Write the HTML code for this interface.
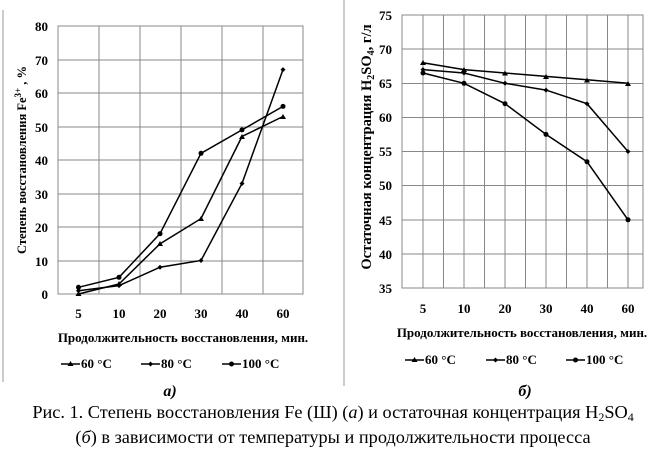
<!DOCTYPE html>
<html><head><meta charset="utf-8"><style>
body{margin:0;background:#fff;width:667px;height:467px;overflow:hidden}
text{font-family:"Liberation Serif",serif;font-weight:bold;font-size:13px;fill:#000}
text.cap{font-weight:normal;font-size:18.3px}
text.lab{font-style:italic;font-size:16px}
</style></head><body>
<svg width="667" height="467" viewBox="0 0 667 467">
<line x1="3" y1="10" x2="3" y2="382" stroke="#999" stroke-width="1"/>
<line x1="344" y1="0" x2="344" y2="386" stroke="#999" stroke-width="1"/>
<g stroke="#888" stroke-width="1" fill="none">
<rect x="58" y="26" width="245" height="268"/>
<line x1="58" y1="60" x2="303" y2="60"/><line x1="58" y1="93" x2="303" y2="93"/>
<line x1="58" y1="127" x2="303" y2="127"/><line x1="58" y1="160" x2="303" y2="160"/>
<line x1="58" y1="194" x2="303" y2="194"/><line x1="58" y1="227" x2="303" y2="227"/>
<line x1="58" y1="261" x2="303" y2="261"/>
<line x1="99" y1="26" x2="99" y2="294"/><line x1="140" y1="26" x2="140" y2="294"/>
<line x1="181" y1="26" x2="181" y2="294"/><line x1="222" y1="26" x2="222" y2="294"/>
<line x1="263" y1="26" x2="263" y2="294"/>
</g>
<g text-anchor="end">
<text x="48" y="31">80</text><text x="48" y="65">70</text><text x="48" y="98">60</text>
<text x="48" y="132">50</text><text x="48" y="165">40</text><text x="48" y="199">30</text>
<text x="48" y="232">20</text><text x="48" y="266">10</text><text x="48" y="299">0</text>
</g>
<g text-anchor="middle">
<text x="78.5" y="318">5</text><text x="119" y="318">10</text><text x="160" y="318">20</text>
<text x="201" y="318">30</text><text x="242" y="318">40</text><text x="283" y="318">60</text>
<text x="183" y="342">Продолжительность восстановления, мин.</text>
</g>
<text transform="translate(26,160) rotate(-90)" text-anchor="middle" style="font-size:12.5px">Степень восстановления Fe<tspan dy="-5" style="font-size:9px">3+</tspan><tspan dy="5"> , %</tspan></text>
<g stroke="#000" stroke-width="1.5" fill="none">
<polyline points="78.5,294 119,284 160,243.8 201,218.6 242,136.5 283,116.5"/>
<polyline points="78.5,290.7 119,285.6 160,267.2 201,260.5 242,183.5 283,69.6"/>
<polyline points="78.5,287.3 119,277.3 160,233.7 201,153.3 242,129.9 283,106.4"/>
</g>
<g fill="#000">
<path d="M78.5,291l3,5h-6z M119,281l3,5h-6z M160,241l3,5h-6z M201,216l3,5h-6z M242,134l3,5h-6z M283,114l3,5h-6z"/>
<path d="M78.5,288.2l2.5,2.5l-2.5,2.5l-2.5,-2.5z M119,283.1l2.5,2.5l-2.5,2.5l-2.5,-2.5z M160,264.7l2.5,2.5l-2.5,2.5l-2.5,-2.5z M201,258l2.5,2.5l-2.5,2.5l-2.5,-2.5z M242,181l2.5,2.5l-2.5,2.5l-2.5,-2.5z M283,67.1l2.5,2.5l-2.5,2.5l-2.5,-2.5z"/>
<circle cx="78.5" cy="287.3" r="2.5"/><circle cx="119" cy="277.3" r="2.5"/><circle cx="160" cy="233.7" r="2.5"/>
<circle cx="201" cy="153.3" r="2.5"/><circle cx="242" cy="129.9" r="2.5"/><circle cx="283" cy="106.4" r="2.5"/>
</g>
<g stroke="#000" stroke-width="1.5"><line x1="61" y1="364" x2="80" y2="364"/><line x1="141" y1="364" x2="160" y2="364"/><line x1="222" y1="364" x2="241" y2="364"/></g>
<path d="M70.5,361l3,5h-6z M150.5,361.5l2.5,2.5l-2.5,2.5l-2.5,-2.5z" fill="#000"/><circle cx="231.5" cy="364" r="2.5"/>
<text x="81" y="368">60 °С</text><text x="161" y="368">80 °С</text><text x="242" y="368">100 °С</text>
<text x="170" y="396" class="lab" text-anchor="middle">а)</text>
<g stroke="#888" stroke-width="1" fill="none">
<rect x="402" y="15" width="241" height="273"/>
<line x1="402" y1="49" x2="643" y2="49"/><line x1="402" y1="83.5" x2="643" y2="83.5"/>
<line x1="402" y1="117.5" x2="643" y2="117.5"/><line x1="402" y1="151.5" x2="643" y2="151.5"/>
<line x1="402" y1="185.5" x2="643" y2="185.5"/><line x1="402" y1="220" x2="643" y2="220"/>
<line x1="402" y1="254" x2="643" y2="254"/>
<line x1="423" y1="15" x2="423" y2="288"/><line x1="443.5" y1="15" x2="443.5" y2="288"/>
<line x1="464" y1="15" x2="464" y2="288"/><line x1="484.5" y1="15" x2="484.5" y2="288"/>
<line x1="505" y1="15" x2="505" y2="288"/><line x1="525.5" y1="15" x2="525.5" y2="288"/>
<line x1="546" y1="15" x2="546" y2="288"/><line x1="566.5" y1="15" x2="566.5" y2="288"/>
<line x1="587" y1="15" x2="587" y2="288"/><line x1="607.5" y1="15" x2="607.5" y2="288"/>
<line x1="628" y1="15" x2="628" y2="288"/>
</g>
<g text-anchor="end">
<text x="392" y="20">75</text><text x="392" y="54">70</text><text x="392" y="88">65</text>
<text x="392" y="122">60</text><text x="392" y="156">55</text><text x="392" y="190">50</text>
<text x="392" y="225">45</text><text x="392" y="259">40</text><text x="392" y="293">35</text>
</g>
<g text-anchor="middle">
<text x="423" y="313">5</text><text x="464" y="313">10</text><text x="505" y="313">20</text>
<text x="546" y="313">30</text><text x="587" y="313">40</text><text x="628" y="313">60</text>
<text x="522" y="337">Продолжительность восстановления, мин.</text>
</g>
<text transform="translate(371,147) rotate(-90)" text-anchor="middle" style="font-size:14.5px">Остаточная концентрация H<tspan dy="3" style="font-size:10px">2</tspan><tspan dy="-3">SO</tspan><tspan dy="3" style="font-size:10px">4</tspan><tspan dy="-3">, г/л</tspan></text>
<g stroke="#000" stroke-width="1.5" fill="none">
<polyline points="423,62.8 464,69.6 505,73 546,76.4 587,79.8 628,83.3"/>
<polyline points="423,69.6 464,73 505,83.3 546,90.1 587,103.7 628,151.5"/>
<polyline points="423,73 464,83.3 505,103.7 546,134.4 587,161.7 628,219.8"/>
</g>
<g fill="#000">
<path d="M423,60l3,5h-6z M464,67l3,5h-6z M505,70.5l3,5h-6z M546,74l3,5h-6z M587,77.5l3,5h-6z M628,81l3,5h-6z"/>
<path d="M423,67.1l2.5,2.5l-2.5,2.5l-2.5,-2.5z M464,70.5l2.5,2.5l-2.5,2.5l-2.5,-2.5z M505,80.8l2.5,2.5l-2.5,2.5l-2.5,-2.5z M546,87.6l2.5,2.5l-2.5,2.5l-2.5,-2.5z M587,101.2l2.5,2.5l-2.5,2.5l-2.5,-2.5z M628,149l2.5,2.5l-2.5,2.5l-2.5,-2.5z"/>
<circle cx="423" cy="73" r="2.5"/><circle cx="464" cy="83.3" r="2.5"/><circle cx="505" cy="103.7" r="2.5"/>
<circle cx="546" cy="134.4" r="2.5"/><circle cx="587" cy="161.7" r="2.5"/><circle cx="628" cy="219.8" r="2.5"/>
</g>
<g stroke="#000" stroke-width="1.5"><line x1="405" y1="360" x2="424" y2="360"/><line x1="486" y1="360" x2="505" y2="360"/><line x1="566" y1="360" x2="585" y2="360"/></g>
<path d="M414.5,357l3,5h-6z M495.5,357.5l2.5,2.5l-2.5,2.5l-2.5,-2.5z" fill="#000"/><circle cx="575.5" cy="360" r="2.5"/>
<text x="425" y="364">60 °С</text><text x="506" y="364">80 °С</text><text x="586" y="364">100 °С</text>
<text x="525" y="396" class="lab" text-anchor="middle">б)</text>
<text x="333" y="418" text-anchor="middle" class="cap">Рис. 1. Степень восстановления Fe (Ш) (<tspan font-style="italic">а</tspan>) и остаточная концентрация H<tspan dy="3" style="font-size:12px">2</tspan><tspan dy="-3">SO</tspan><tspan dy="3" style="font-size:12px">4</tspan></text>
<text x="333" y="443" text-anchor="middle" class="cap">(<tspan font-style="italic">б</tspan>) в зависимости от температуры и продолжительности процесса</text>
</svg>
</body></html>
